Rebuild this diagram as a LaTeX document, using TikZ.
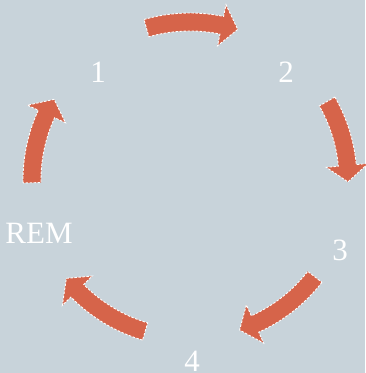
\documentclass[tikz,border=0pt]{standalone}
\usepackage{fontspec}
\setmainfont{Liberation Serif}
\definecolor{cyclebg}{RGB}{200,211,218}
\definecolor{cyclearrow}{RGB}{214,100,74}

\begin{document}
\begin{tikzpicture}[
  x=1pt, y=1pt,
  every node/.style={font=\fontsize{31}{31}\selectfont, text=white, inner sep=0pt},
  blockarrow/.style={fill=cyclearrow, draw=white, line width=0.9pt, dash pattern=on 2.5pt off 1.5pt}
]
  \fill[cyclebg] (0,0) rectangle (365,373);
  \useasboundingbox (0,0) rectangle (365,373);
  \coordinate (c) at (190,193);

  % tail angle / tip angle
  \foreach \ta/\tb in {106/72.4, 29.8/-0.7, -37.8/-71.7, -106.5/-141.5, -179/-210.7} {
    \pgfmathsetmacro\hb{\tb+6}
    \draw[blockarrow, shift={(c)}] (\ta:167) arc[start angle=\ta, end angle=\hb, radius=167]
      -- (\hb:179) -- (\tb:158) -- (\hb:137) -- (\hb:149)
      arc[start angle=\hb, end angle=\ta, radius=149] -- cycle;
  }

  \node (s1) at (98,301) {1};
  \node (s2) at (286,301) {2};
  \node (s3) at (340,123) {3};
  \node (s4) at (192,12) {4};
  \node (rem) at (39,140) {REM};
\end{tikzpicture}
\end{document}
